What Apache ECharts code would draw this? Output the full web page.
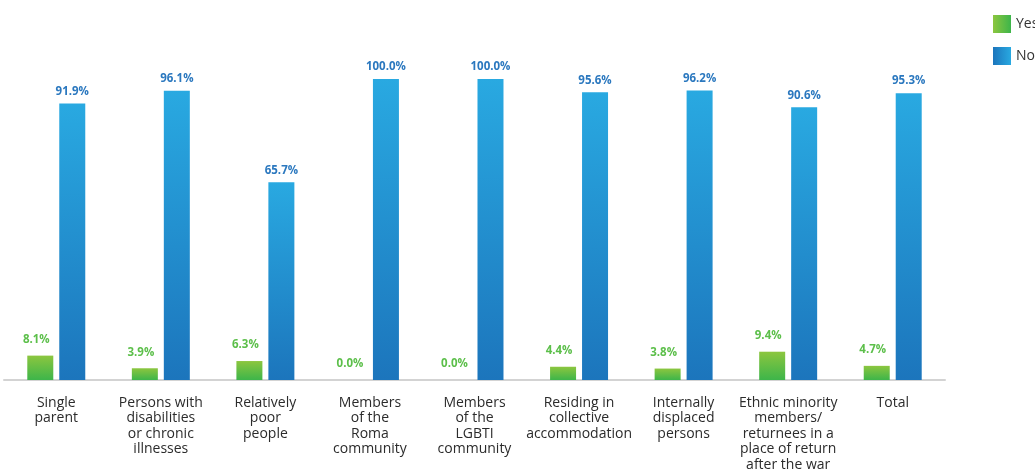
<!DOCTYPE html>
<html>
<head>
<meta charset="utf-8">
<script src="https://cdn.jsdelivr.net/npm/echarts@6/dist/echarts.min.js"></script>
<style>
  html, body { margin: 0; padding: 0; background: #fff; }
  #chart { width: 1035px; height: 470px; }
</style>
</head>
<body>
<div id="chart"></div>
<script>
// Groups surveyed (line breaks as printed under the axis)
const categories = [
  'Single\nparent',
  'Persons with\ndisabilities\nor chronic\nillnesses',
  'Relatively\npoor\npeople',
  'Members\nof the\nRoma\ncommunity',
  'Members\nof the\nLGBTI\ncommunity',
  'Residing in\ncollective\naccommodation',
  'Internally\ndisplaced\npersons',
  'Ethnic minority\nmembers/\nreturnees in a\nplace of return\nafter the war',
  'Total'
];
// Share of answers, %
const yesValues = [8.1, 3.9, 6.3, 0.0, 0.0, 4.4, 3.8, 9.4, 4.7];
const noValues  = [91.9, 96.1, 65.7, 100.0, 100.0, 95.6, 96.2, 90.6, 95.3];
const seriesNames = ['Yes', 'No'];

const G = echarts.graphic.LinearGradient;
const greenFill = new G(0, 0, 0, 1, [{ offset: 0, color: '#8cc63f' }, { offset: 1, color: '#3db54a' }]);
const blueFill  = new G(0, 0, 0, 1, [{ offset: 0, color: '#29a9e1' }, { offset: 1, color: '#1c75bc' }]);
const greenIcon = new G(0, 0, 1, 0, [{ offset: 0, color: '#8cc63f' }, { offset: 1, color: '#3db54a' }]);
const blueIcon  = new G(0, 0, 1, 0, [{ offset: 0, color: '#1c75bc' }, { offset: 1, color: '#29a9e1' }]);

const chart = echarts.init(document.getElementById('chart'), null, { renderer: 'canvas' });
chart.setOption({
  animation: false,
  textStyle: { fontFamily: '"Open Sans", "Noto Sans", sans-serif' },
  legend: {
    orient: 'vertical',
    left: 988,
    top: 10,
    icon: 'rect',
    itemWidth: 18,
    itemHeight: 18,
    itemGap: 14,
    textStyle: { fontSize: 14, color: '#333' },
    data: [
      { name: seriesNames[0], itemStyle: { color: greenIcon } },
      { name: seriesNames[1], itemStyle: { color: blueIcon } }
    ]
  },
  grid: { left: 4, right: 90, top: 79, bottom: 90, containLabel: false, outerBoundsMode: 'none' },
  xAxis: {
    type: 'category',
    data: categories,
    axisTick: { show: false },
    axisLine: { lineStyle: { color: '#d3d3d3', width: 2 } },
    axisLabel: {
      interval: 0,
      margin: 15,
      fontSize: 14,
      lineHeight: 15.5,
      color: '#2b2b2b',
      fontFamily: '"Open Sans", sans-serif'
    }
  },
  yAxis: {
    type: 'value',
    min: 0,
    max: 100,
    show: false,
    splitLine: { show: false }
  },
  series: [
    {
      name: seriesNames[0],
      type: 'bar',
      data: yesValues,
      barWidth: 26,
      barGap: '23%',
      itemStyle: { color: greenFill, borderRadius: 0 },
      label: {
        show: true,
        position: 'top',
        distance: 10,
        offset: [-4, 0],
        formatter: p => p.value.toFixed(1) + '%',
        fontSize: 11.5,
        fontWeight: 'bold',
        color: '#5cbf4a'
      }
    },
    {
      name: seriesNames[1],
      type: 'bar',
      data: noValues,
      barWidth: 26,
      itemStyle: { color: blueFill, borderRadius: 0 },
      label: {
        show: true,
        position: 'top',
        distance: 6,
        formatter: p => p.value.toFixed(1) + '%',
        fontSize: 11.5,
        fontWeight: 'bold',
        color: '#2b78bf'
      }
    }
  ]
});
</script>
</body>
</html>
